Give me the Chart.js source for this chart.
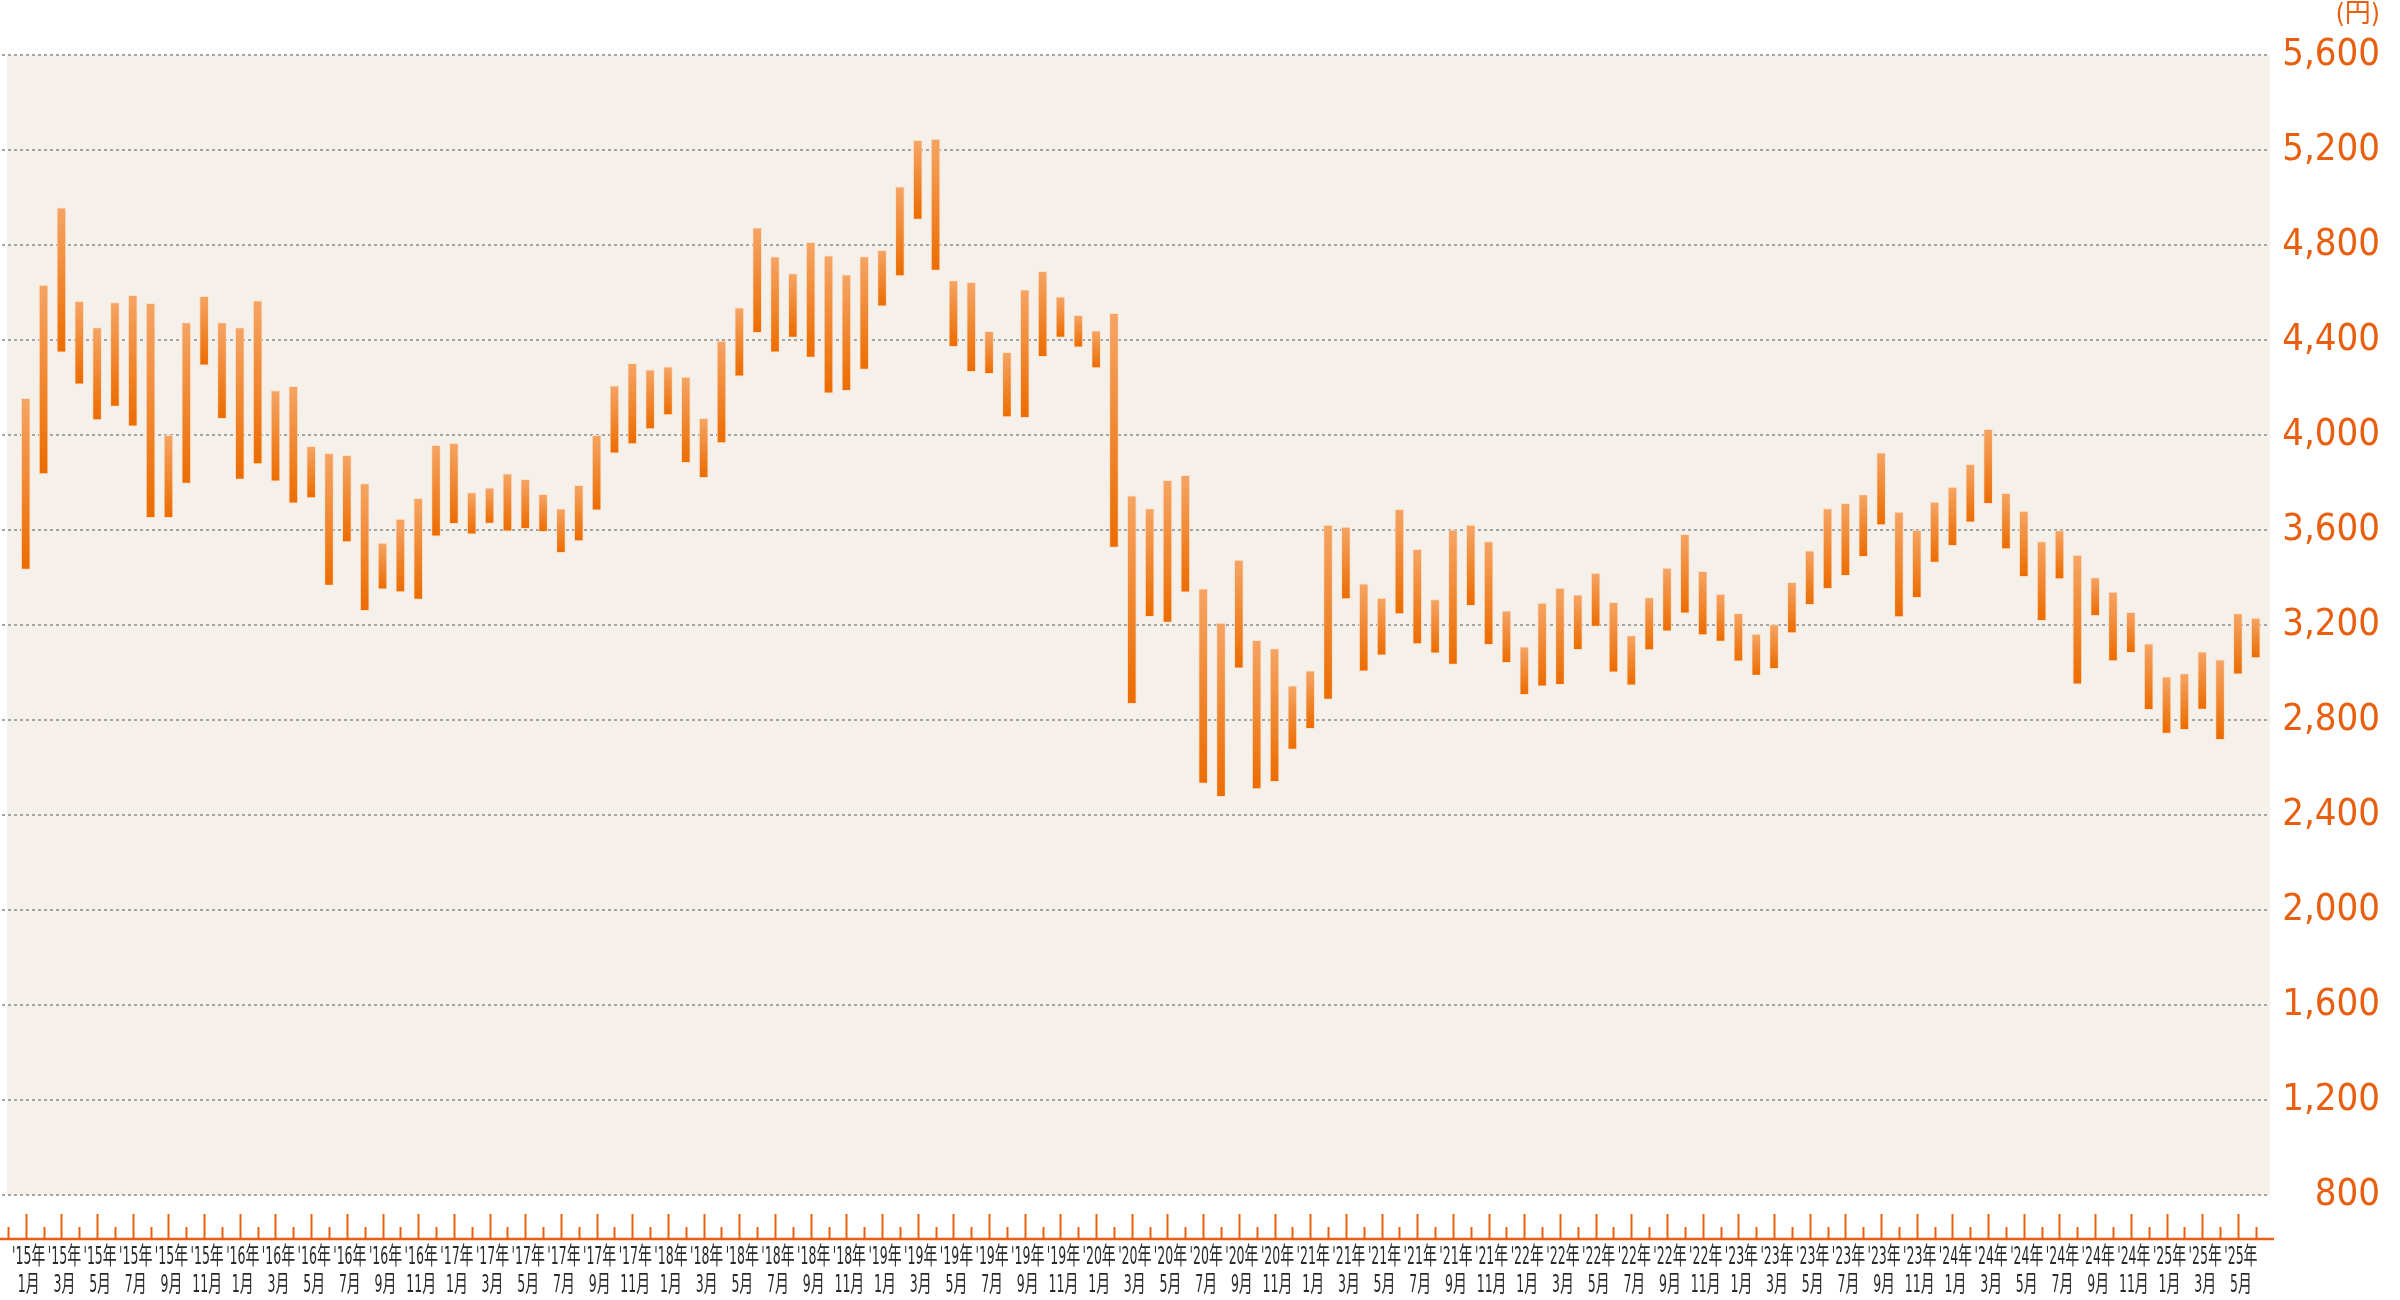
<!DOCTYPE html>
<html lang="ja">
<head>
<meta charset="UTF-8">
<title>月次 高値・安値レンジ</title>
<script src="https://cdn.jsdelivr.net/npm/chart.js"></script>
<style>
  html,body{margin:0;padding:0;background:#fff}
  .wrap{position:relative;width:2400px;height:1300px}
</style>
</head>
<body>
<div class="wrap"><canvas id="rangeChart"></canvas></div>
<script>
// 月ラベル '15年1月 〜 '25年6月
const startYear = 2015;
const monthCount = 126;
const yearLabels = [], monthLabels = [];
for (let i = 0; i < monthCount; i++) {
  yearLabels.push("'" + String((startYear + Math.floor(i / 12)) % 100).padStart(2, '0') + '年');
  monthLabels.push((i % 12 + 1) + '月');
}

// 月中高値（円）
const highs = [
  4155, 4632, 4957, 4564, 4453, 4558, 4589, 4555, 4000, 4474, 4585, 4474,
  4453, 4566, 4188, 4206, 3953, 3923, 3915, 3796, 3545, 3646, 3734, 3957,
  3966, 3758, 3778, 3837, 3814, 3751, 3690, 3789, 3999, 4208, 4302, 4275,
  4288, 4244, 4071, 4396, 4536, 4873, 4751, 4680, 4812, 4755, 4675, 4752,
  4778, 5046, 5241, 5247, 4651, 4643, 4437, 4349, 4612, 4690, 4582, 4505,
  4439, 4513, 3744, 3691, 3810, 3831, 3353, 3209, 3474, 3136, 3101, 2944,
  3007, 3621, 3613, 3374, 3314, 3688, 3519, 3307, 3601, 3621, 3552, 3260,
  3108, 3293, 3356, 3327, 3419, 3296, 3156, 3316, 3440, 3582, 3426, 3331,
  3250, 3162, 3202, 3380, 3513, 3691, 3713, 3750, 3925, 3676, 3600, 3718,
  3781, 3877, 4024, 3755, 3680, 3552, 3598, 3495, 3400, 3339, 3254, 3121,
  2982, 2996, 3087, 3054, 3248, 3230
];

// 月中安値（円）
const lows = [
  3435, 3837, 4349, 4215, 4064, 4121, 4038, 3652, 3652, 3797, 4295, 4069,
  3813, 3879, 3806, 3713, 3736, 3367, 3550, 3261, 3351, 3340, 3308, 3575,
  3627, 3583, 3628, 3596, 3606, 3593, 3505, 3555, 3684, 3924, 3963, 4026,
  4085, 3884, 3821, 3967, 4248, 4432, 4349, 4412, 4327, 4177, 4187, 4277,
  4543, 4670, 4908, 4694, 4373, 4267, 4259, 4077, 4074, 4330, 4411, 4370,
  4283, 3527, 2869, 3236, 3211, 3339, 2533, 2477, 3019, 2510, 2541, 2676,
  2764, 2887, 3310, 3006, 3073, 3247, 3121, 3082, 3034, 3282, 3118, 3042,
  2907, 2943, 2949, 3097, 3194, 3002, 2947, 3096, 3174, 3250, 3159, 3131,
  3048, 2988, 3017, 3167, 3286, 3353, 3408, 3488, 3622, 3234, 3316, 3464,
  3534, 3633, 3711, 3521, 3404, 3219, 3395, 2951, 3240, 3049, 3084, 2844,
  2744, 2760, 2845, 2718, 2993, 3062
];

const yTicks = [800, 1200, 1600, 2000, 2400, 2800, 3200, 3600, 4000, 4400, 4800, 5200, 5600];

const FONT = "'DejaVu Sans Condensed', 'Noto Sans CJK JP', sans-serif";
const ORANGE = '#e8600f';

// チャートエリアのベージュ背景
const backdrop = {
  id: 'backdrop',
  beforeDraw(chart) {
    const { ctx, chartArea: a } = chart;
    ctx.save();
    ctx.fillStyle = '#f5f0e9';
    ctx.fillRect(a.left + 5, a.top, a.right - a.left - 5, a.bottom - a.top);
    ctx.restore();
  }
};

// 下の月軸：線・目盛り・2段ラベル
const monthAxis = {
  id: 'monthAxis',
  afterDraw(chart) {
    const { ctx, chartArea: a, scales: { x } } = chart;
    const axisY = a.bottom + 44;
    ctx.save();
    ctx.strokeStyle = ORANGE;
    ctx.lineWidth = 2.5;
    ctx.beginPath();
    ctx.moveTo(0, axisY);
    ctx.lineTo(a.right + 4, axisY);
    ctx.stroke();

    ctx.lineWidth = 2;
    for (let i = -1; i < monthCount; i++) {
      const px = Math.round(x.getPixelForValue(i)) + 0.5;
      const top = i % 2 === 0 ? axisY - 25 : axisY - 12;
      ctx.beginPath();
      ctx.moveTo(px, top);
      ctx.lineTo(px, axisY);
      ctx.stroke();
    }

    ctx.fillStyle = '#2a2a2a';
    ctx.font = '24px ' + FONT;
    ctx.textAlign = 'center';
    ctx.textBaseline = 'middle';
    for (let i = 0; i < monthCount; i += 2) {
      const px = x.getPixelForValue(i) + 3;
      ctx.save();
      ctx.translate(px, a.bottom + 63);
      ctx.scale(0.58, 1);
      ctx.fillText(yearLabels[i], 0, 0);
      ctx.fillText(monthLabels[i], 0, 28);
      ctx.restore();
    }
    ctx.restore();
  }
};

const barFill = (c) => {
  const { chart, dataIndex } = c;
  const { chartArea, scales } = chart;
  if (!chartArea) return '#f08a30';
  const y1 = scales.y.getPixelForValue(highs[dataIndex]);
  const y2 = scales.y.getPixelForValue(lows[dataIndex]);
  const g = chart.ctx.createLinearGradient(0, y1, 0, y2);
  g.addColorStop(0, '#f5a464');
  g.addColorStop(1, '#ec6c00');
  return g;
};

new Chart(document.getElementById('rangeChart'), {
  type: 'bar',
  data: {
    datasets: [{
      data: highs.map((h, i) => ({ x: i, y: [lows[i], h] })),
      backgroundColor: barFill,
      borderColor: 'rgba(252,222,196,0.85)',
      borderWidth: 1,
      borderSkipped: false,
      barThickness: 9
    }]
  },
  options: {
    responsive: true,
    maintainAspectRatio: false,
    animation: false,
    layout: { padding: { left: 2, right: 20, top: 0, bottom: 105 } },
    plugins: {
      legend: { display: false },
      tooltip: { enabled: false },
      title: {
        display: true,
        text: '(円)',
        align: 'end',
        color: ORANGE,
        font: { family: FONT, size: 26, weight: 'normal', lineHeight: 1.2 },
        padding: { top: 0, bottom: 24 }
      }
    },
    scales: {
      x: { type: 'linear', display: false, offset: false, min: -1.33, max: 125.8 },
      y: {
        position: 'right',
        min: 800,
        max: 5600,
        afterBuildTicks: s => { s.ticks = yTicks.map(v => ({ value: v })); },
        afterFit: s => { s.width = 110; },
        ticks: {
          color: ORANGE,
          padding: 14,
          crossAlign: 'far',
          font: { family: FONT, size: 38 },
          callback: v => v.toLocaleString('en-US')
        },
        grid: { color: '#a4a4a4', lineWidth: 2, drawTicks: false },
        border: { display: false, dash: [3, 3] }
      }
    }
  },
  plugins: [backdrop, monthAxis]
});
</script>
</body>
</html>
